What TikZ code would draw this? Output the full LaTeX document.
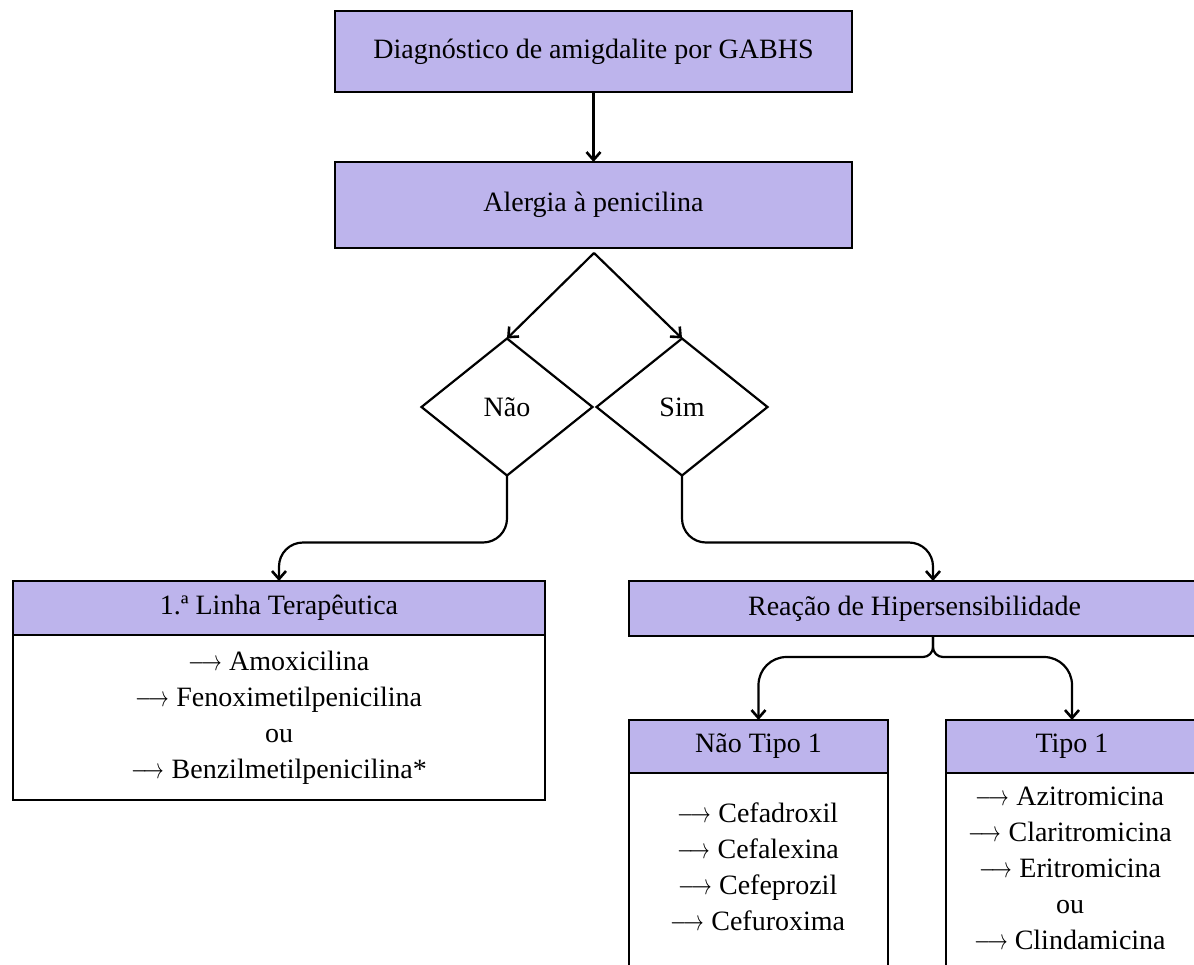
\documentclass[tikz,border=0pt]{standalone}
\usepackage{fontspec}
\setmainfont{Liberation Serif}
\usepackage{graphicx}
\usetikzlibrary{shapes.geometric,arrows.meta}
\definecolor{lav}{RGB}{189,180,236}
\newcommand{\arr}{\scalebox{0.72}[1]{$\longrightarrow$}}
\begin{document}
\begin{tikzpicture}[x=0.5pt,y=-0.5pt,
  every node/.style={font=\fontsize{14}{18}\selectfont, inner sep=0pt, outer sep=0pt},
  hdr/.style={draw=black, line width=1.3pt, fill=lav, rectangle, align=center},
  bodybox/.style={draw=black, line width=1.3pt, fill=white, rectangle, align=center},
  dia/.style={draw=black, line width=1.1pt, diamond, minimum width=85.5pt, minimum height=68.5pt},
  conn/.style={line width=1.1pt, -{Straight Barb[length=4pt,width=7pt,line width=1.3pt]}}
]
\useasboundingbox (0,0) rectangle (1194,964);

\node[hdr, minimum width=258.5pt, minimum height=40.5pt] (diag) at (593.5,51.5) {Diagnóstico de amigdalite por GABHS};
\node[hdr, minimum width=258.5pt, minimum height=43pt] (alerg) at (593.5,205) {Alergia à penicilina};
\coordinate (apex) at (594,253);
\node[dia] (nao) at (507,407) {Não};
\node[dia] (sim) at (682,407) {Sim};

\node[hdr, minimum width=266pt, minimum height=27pt] (lh) at (279,608) {1.ª Linha Terapêutica};
\node[bodybox, minimum width=266pt, minimum height=82.5pt, anchor=north] (lb) at (lh.south)
  {\arr\ Amoxicilina\\ \arr\ Fenoximetilpenicilina\\ ou\\ \arr\ Benzilmetilpenicilina*};

\node[hdr, minimum width=285.5pt, minimum height=27.5pt] (rh) at (914.5,608.5) {Reação de Hipersensibilidade};
\coordinate (rin) at (933,581);
\coordinate (rout) at (933,636);

\node[hdr, minimum width=129.5pt, minimum height=26.5pt] (nth) at (758.5,746.5) {Não Tipo 1};
\node[bodybox, minimum width=129.5pt, minimum height=120pt, anchor=north] (ntb) at (nth.south) {};
\node[align=center] (ntl) at (758,866.5)
  {\arr\ Cefadroxil\\ \arr\ Cefalexina\\ \arr\ Cefeprozil\\ \arr\ Cefuroxima};

\node[hdr, minimum width=126pt, minimum height=26.5pt] (th) at (1072,746.5) {Tipo 1};
\node[bodybox, minimum width=126pt, minimum height=120pt, anchor=north] (tb) at (th.south) {};
\node[align=center] (tl) at (1070,868)
  {\arr\ Azitromicina\\ \arr\ Claritromicina\\ \arr\ Eritromicina\\ ou\\ \arr\ Clindamicina};

\draw[conn] (diag) -- (alerg);
\draw[conn] (apex) -- (nao.north);
\draw[conn] (apex) -- (sim.north);
\draw[conn, rounded corners=12pt] (nao.south) -- ++(0,67) -| (lh.north);
\draw[conn, rounded corners=12pt] (sim.south) -- ++(0,67) -| (rin);
\draw[conn] (rout) [rounded corners=5pt] |- ++(-20,21) [rounded corners=14pt] -| (nth.north);
\draw[conn] (rout) [rounded corners=5pt] |- ++(20,21) [rounded corners=14pt] -| (th.north);
\end{tikzpicture}
\end{document}
